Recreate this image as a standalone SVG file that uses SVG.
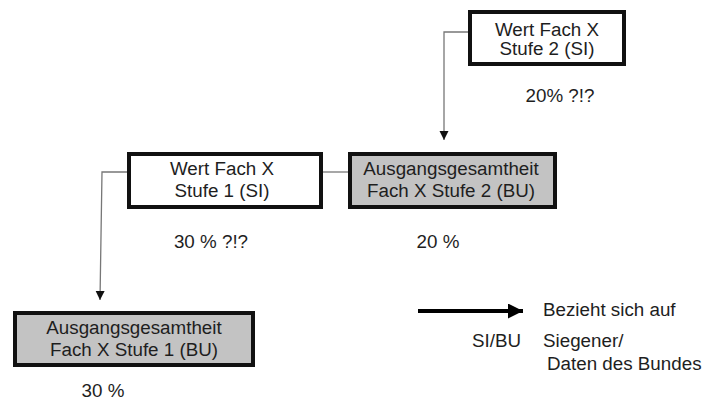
<svg xmlns="http://www.w3.org/2000/svg" width="705" height="401" viewBox="0 0 705 401">
<style>
text{font-family:"Liberation Sans",Arial,sans-serif;font-size:18.8px;fill:#1e1e1e}
.c{text-anchor:middle}
.box{fill:#fff;stroke:#111;stroke-width:4}
.gbox{fill:#c3c3c3;stroke:#111;stroke-width:4}
.conn{fill:none;stroke:#777;stroke-width:1.3}
</style>
<defs>
<marker id="ah" viewBox="0 0 10 10" refX="10" refY="5" markerUnits="userSpaceOnUse" markerWidth="9" markerHeight="13" orient="auto">
<path d="M0,0 L10,5 L0,10 Z" fill="#111"/>
</marker>
<marker id="ahl" viewBox="0 0 10 10" refX="10" refY="5" markerUnits="userSpaceOnUse" markerWidth="21" markerHeight="15" orient="auto">
<path d="M0,0 L10,5 L0,10 Z" fill="#000"/>
</marker>
</defs>
<g id="connectors">
<path class="conn" d="M469,32 H444 V140" marker-end="url(#ah)"/>
<path class="conn" d="M128,172 H102 L100,300" marker-end="url(#ah)"/>
<path class="conn" d="M323,172 H349"/>
</g>
<g id="n-wert2">
<rect class="box" x="470" y="12" width="154" height="52"/>
<text class="c" x="547" y="36">Wert Fach X</text>
<text class="c" x="547" y="55">Stufe 2 (SI)</text>
</g>
<text class="c" x="560" y="102">20% ?!?</text>
<g id="n-wert1">
<rect class="box" x="129" y="154" width="192" height="53"/>
<text class="c" x="222" y="175">Wert Fach X</text>
<text class="c" x="222" y="197">Stufe 1 (SI)</text>
</g>
<text class="c" x="211" y="248">30 % ?!?</text>
<g id="n-ausg2">
<rect class="gbox" x="350" y="154" width="205" height="53"/>
<text class="c" x="451" y="175">Ausgangsgesamtheit</text>
<text class="c" x="451" y="197">Fach X Stufe 2 (BU)</text>
</g>
<text class="c" x="438" y="248">20 %</text>
<g id="n-ausg1">
<rect class="gbox" x="15" y="313" width="238" height="52"/>
<text class="c" x="134" y="334">Ausgangsgesamtheit</text>
<text class="c" x="134" y="356">Fach X Stufe 1 (BU)</text>
</g>
<text class="c" x="103" y="397">30 %</text>
<g id="legend">
<line x1="418" y1="311" x2="523" y2="311" stroke="#000" stroke-width="4" marker-end="url(#ahl)"/>
<text x="543" y="316">Bezieht sich auf</text>
<text x="472" y="347">SI/BU</text>
<text x="543" y="347">Siegener/</text>
<text x="547" y="370">Daten des Bundes</text>
</g>
</svg>
